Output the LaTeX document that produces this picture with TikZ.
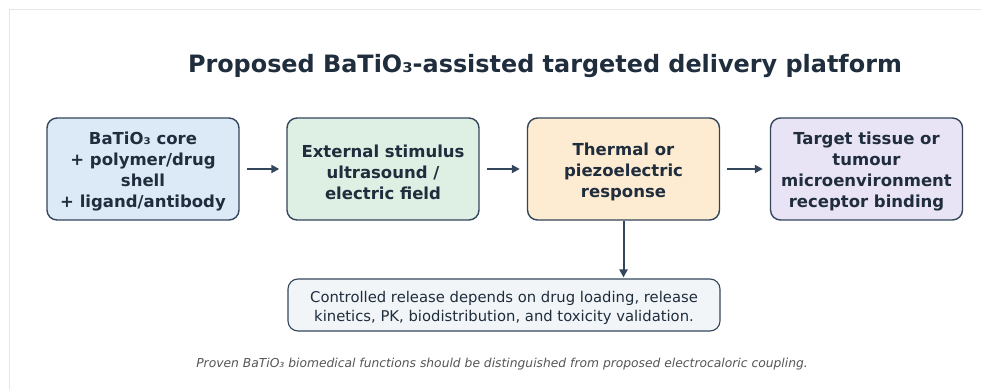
\documentclass[tikz,border=0pt]{standalone}
\usepackage{fontspec}
\setmainfont{DejaVu Sans}
\usetikzlibrary{arrows.meta}
\definecolor{edgecol}{HTML}{34465C}
\definecolor{txtcol}{HTML}{1F2D3D}
\definecolor{fillA}{HTML}{DCEAF7}
\definecolor{fillB}{HTML}{DDF0E3}
\definecolor{fillC}{HTML}{FDEBD2}
\definecolor{fillD}{HTML}{E9E3F6}
\definecolor{fillE}{HTML}{F2F5F8}
\definecolor{framecol}{HTML}{E6E6E6}
\definecolor{notecol}{HTML}{555555}
\tikzset{
  stagebox/.style={draw=edgecol, line width=1.4pt, rounded corners=10pt,
    minimum width=192pt, minimum height=102pt, inner sep=0pt},
  stagetext/.style={align=center, text=txtcol, yshift=-3pt,
    font=\fontsize{16.5}{21}\selectfont\bfseries},
  notebox/.style={draw=edgecol, line width=1.1pt, rounded corners=10pt, fill=fillE,
    minimum width=432pt, minimum height=52pt, inner sep=0pt},
  notetext/.style={align=center, text=txtcol, yshift=-3pt,
    font=\fontsize{14.8}{19}\selectfont},
  flow/.style={draw=edgecol, line width=2pt, -{Triangle[length=8pt,width=8pt]},
    shorten <=7pt, shorten >=7pt},
}
\begin{document}
\begin{tikzpicture}[x=1pt,y=-1pt]
\useasboundingbox (0,0) rectangle (981,390);
\fill[white] (0,0) rectangle (981,390);
\draw[framecol, line width=1pt] (9,390) -- (9,10) -- (981,10);
\node[text=txtcol, font=\fontsize{23.9}{28}\selectfont\bfseries] (title) at (545,66)
  {Proposed BaTiO₃-assisted targeted delivery platform};
\node[stagebox, fill=fillA, label={[stagetext]center:{BaTiO₃ core\\+ polymer/drug\\shell\\+ ligand/antibody}}] (b1) at (143,169) {};
\node[stagebox, fill=fillB, label={[stagetext]center:{External stimulus\\ultrasound /\\electric field}}] (b2) at (383,169) {};
\node[stagebox, fill=fillC, label={[stagetext]center:{Thermal or\\piezoelectric\\response}}] (b3) at (623.5,169) {};
\node[stagebox, fill=fillD, label={[stagetext]center:{Target tissue or\\tumour\\microenvironment\\receptor binding}}] (b4) at (866.5,169) {};
\node[notebox, label={[notetext]center:{Controlled release depends on drug loading, release\\kinetics, PK, biodistribution, and toxicity validation.}}] (b5) at (504,305) {};
\node[text=notecol, font=\fontsize{12.3}{15}\selectfont\itshape] (note) at (502,364)
  {Proven BaTiO₃ biomedical functions should be distinguished from proposed electrocaloric coupling.};
\draw[flow] (b1) -- (b2);
\draw[flow] (b2) -- (b3);
\draw[flow] (b3) -- (b4);
\draw[flow, shorten <=0pt, shorten >=1pt] (b3.south) -- (b3.south |- b5.north);
\end{tikzpicture}
\end{document}
